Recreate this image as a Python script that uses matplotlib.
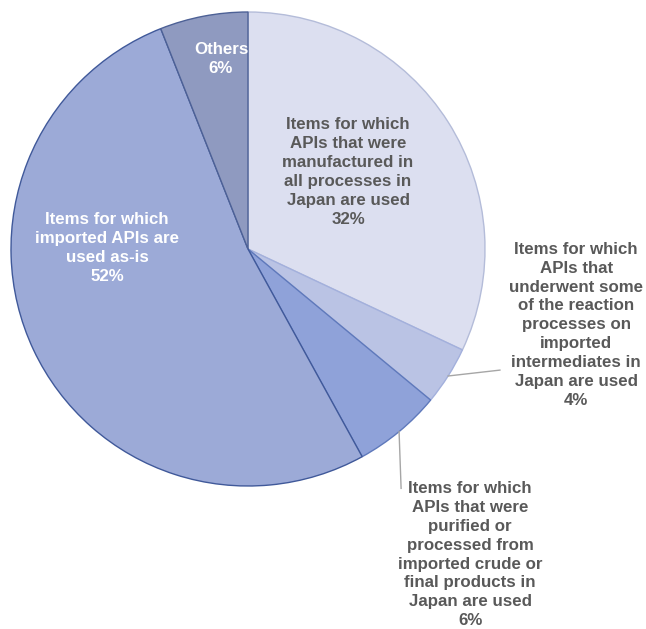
import numpy as np
import matplotlib
matplotlib.use("Agg")
import matplotlib.pyplot as plt

plt.rcParams['font.family'] = ['Liberation Sans', 'DejaVu Sans']

# API sourcing categories, clockwise from 12 o'clock
labels = [
    "Items for which\nAPIs that were\nmanufactured in\nall processes in\nJapan are used",
    "Items for which\nAPIs that\nunderwent some\nof the reaction\nprocesses on\nimported\nintermediates in\nJapan are used",
    "Items for which\nAPIs that were\npurified or\nprocessed from\nimported crude or\nfinal products in\nJapan are used",
    "Items for which\nimported APIs are\nused as-is",
    "Others",
]
shares = [32, 4, 6, 52, 6]

colors = ['#dcdff0', '#bac3e4', '#8fa2d9', '#9caad7', '#8f9ac0']
edges = ['#b4bcd9', '#a3b0dc', '#5f79bb', '#40599a', '#4d6196']
text_cols = ['#595959', '#595959', '#595959', 'white', 'white']

# label centres in axes data units, and where a leader line ends (if any)
label_xy = [(0.422, 0.325), (1.385, -0.32), (0.937, -1.29), (-0.595, 0.004), (-0.114, 0.8)]
leader_end = [None, (1.063, -0.511), (0.646, -1.01), None, None]

fig = plt.figure(figsize=(6.46, 6.29), dpi=100)
ax = fig.add_axes([11 / 646, 143 / 629, 474 / 646, 474 / 629])
ax.axis('off')

wedges, _ = ax.pie(shares, colors=colors, startangle=90, counterclock=False,
                   radius=1, center=(0, 0), frame=False,
                   wedgeprops=dict(linewidth=1.0))
for w, ec in zip(wedges, edges):
    w.set_edgecolor(ec)
ax.set_xlim(-1, 1)
ax.set_ylim(-1, 1)

for i, w in enumerate(wedges):
    txt = labels[i] + "\n" + "%d%%" % shares[i]
    x, y = label_xy[i]
    ax.text(x, y, txt, ha='center', va='center', fontsize=12.2,
            fontweight='bold', color=text_cols[i], linespacing=1.32)
    if leader_end[i] is not None:
        mid = np.deg2rad((w.theta1 + w.theta2) / 2)
        ex, ey = leader_end[i]
        ax.plot([np.cos(mid), ex], [np.sin(mid), ey], color='#a6a6a6',
                linewidth=1, clip_on=False)

fig.savefig("out.png", dpi=100)
